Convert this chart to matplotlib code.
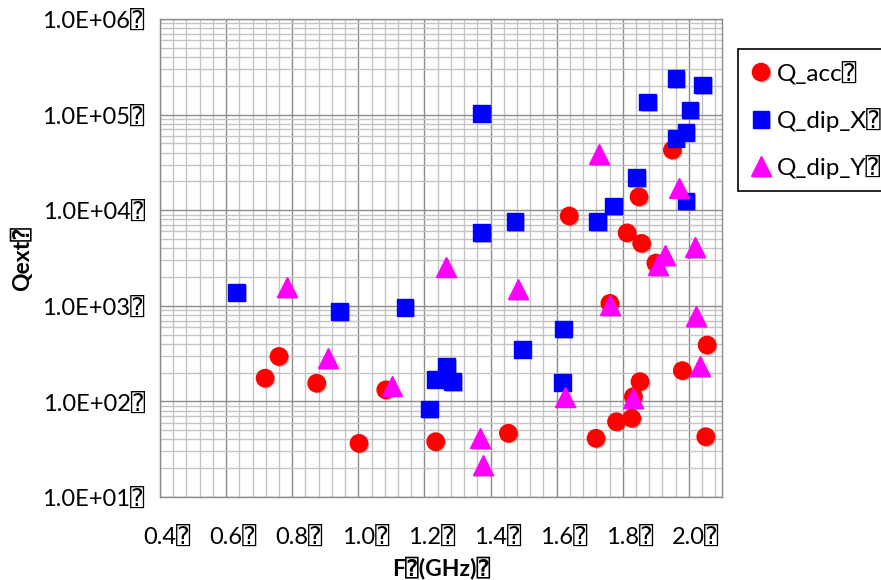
import matplotlib.pyplot as plt
import matplotlib.patheffects as pe
from matplotlib.ticker import MultipleLocator, LogLocator, FixedLocator, FixedFormatter
from matplotlib.transforms import ScaledTranslation

plt.rcParams['font.family'] = ['Lato', 'DejaVu Sans', 'DejaVu Sans Mono']

BOX = '\u2370'

# frequency (GHz) and external Q for each mode family
acc_f = [0.718, 0.760, 0.874, 1.002, 1.083, 1.234, 1.454, 1.638, 1.719, 1.761, 1.781,
         1.813, 1.827, 1.832, 1.849, 1.852, 1.857, 1.900, 1.950, 1.980, 2.051, 2.055]
acc_q = [175, 295, 155, 36.4, 132, 37.9, 46.4, 8700, 41.1, 1060, 61.3,
         5800, 66.6, 112, 13800, 161, 4500, 2800, 42600, 210, 42.7, 389]

dipx_f = [0.632, 0.944, 1.141, 1.215, 1.234, 1.267, 1.285, 1.373, 1.373, 1.474, 1.496, 1.617,
          1.620, 1.724, 1.771, 1.842, 1.875, 1.961, 1.961, 1.991, 1.991, 2.003, 2.042]
dipx_q = [1380, 867, 964, 83.3, 170, 231, 161, 103000, 5800, 7580, 351, 158,
          572, 7580, 11100, 21900, 135000, 238000, 56500, 65300, 12500, 112000, 204000]

dipy_f = [0.783, 0.907, 1.101, 1.266, 1.368, 1.376, 1.482, 1.625, 1.729, 1.761, 1.832,
          1.907, 1.928, 1.971, 2.018, 2.021, 2.033]
dipy_q = [1560, 283, 146, 2570, 41.1, 21.6, 1500, 112, 38500, 1020, 108,
          2670, 3400, 17200, 4090, 782, 235]

x_ticks = [0.4, 0.6, 0.8, 1.0, 1.2, 1.4, 1.6, 1.8, 2.0]
x_labels = ['0.4', '0.6', '0.8', '1.0', '1.2', '1.4', '1.6', '1.8', '2.0']
y_ticks = [1e1, 1e2, 1e3, 1e4, 1e5, 1e6]
y_labels = ['1.0E+01', '1.0E+02', '1.0E+03', '1.0E+04', '1.0E+05', '1.0E+06']

fig = plt.figure(figsize=(8.81, 5.80), dpi=100)
ax = fig.add_axes([0.1816, 0.1431, 0.6379, 0.8241])

shadow = [pe.SimplePatchShadow(offset=(1.2, -1.2), shadow_rgbFace='k', alpha=0.25), pe.Normal()]

ax.plot(acc_f, acc_q, ls='none', marker='o', ms=12.5, color='#ff0000', mec='#ff0000',
        label='Q_acc' + BOX, path_effects=shadow)
ax.plot(dipx_f, dipx_q, ls='none', marker='s', ms=12, color='#0000ff', mec='#0000ff',
        label='Q_dip_X' + BOX, path_effects=shadow)
ax.plot(dipy_f, dipy_q, ls='none', marker='^', ms=14.5, color='#ff00ff', mec='#ff00ff',
        label='Q_dip_Y' + BOX, path_effects=shadow)

ax.set_yscale('log')
ax.set_xlim(0.4, 2.1)
ax.set_ylim(10, 1e6)

ax.xaxis.set_major_locator(FixedLocator(x_ticks))
ax.xaxis.set_major_formatter(FixedFormatter([s + BOX for s in x_labels]))
ax.xaxis.set_minor_locator(MultipleLocator(0.04))
ax.yaxis.set_major_locator(FixedLocator(y_ticks))
ax.yaxis.set_major_formatter(FixedFormatter([s + BOX for s in y_labels]))
ax.yaxis.set_minor_locator(LogLocator(base=10, subs=range(2, 10), numticks=20))

ax.grid(which='major', color='#8c8c8c', lw=1.0)
ax.grid(which='minor', color='#c4c4c4', lw=1.0)
ax.set_axisbelow(True)
for sp in ax.spines.values():
    sp.set_color('#8c8c8c')
    sp.set_linewidth(1.0)

ax.tick_params(which='both', length=0, labelsize=17)
ax.tick_params(axis='x', pad=21)
ax.tick_params(axis='y', pad=11)

# keep the number centred on the tick, the trailing box hangs off to the right
for lbl in ax.get_xticklabels():
    lbl.set_transform(lbl.get_transform() + ScaledTranslation(5 / 72, 0, fig.dpi_scale_trans))

ax.set_xlabel('F' + BOX + '(GHz)' + BOX, fontsize=16.5, fontweight='bold')
ax.xaxis.set_label_coords(0.5, -0.125)
ax.set_ylabel('Qext' + BOX, fontsize=16.5, fontweight='bold')
ax.yaxis.set_label_coords(-0.225, 0.5)

leg = fig.legend(loc='upper left', bbox_to_anchor=(738 / 881, 1 - 49 / 580),
                 bbox_transform=fig.transFigure, fontsize=17.5, frameon=True,
                 fancybox=False, edgecolor='black', framealpha=1, borderaxespad=0,
                 handlelength=0.9, handletextpad=0.2, labelspacing=0.95, borderpad=0.5)
leg.get_frame().set_linewidth(1.2)

fig.savefig('out.png', dpi=100)
